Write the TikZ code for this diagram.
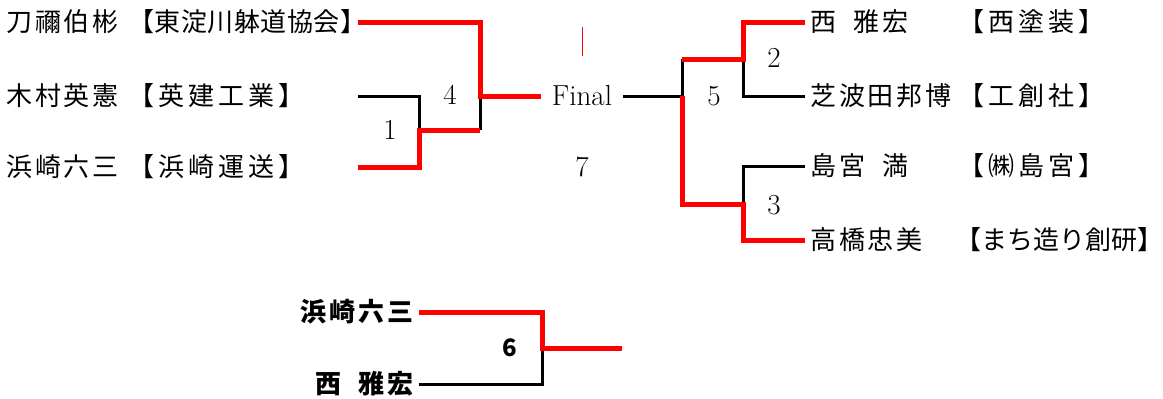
\documentclass[tikz,border=0pt]{standalone}
\usepackage{fontspec}
\newfontfamily\jpfont{Noto Sans CJK JP}
\usetikzlibrary{positioning}

\newcommand{\jpsize}{\fontsize{26}{30}\selectfont}
\newcommand{\namegap}{\hspace*{17pt}}

\tikzset{
		player/.style  = {anchor=west, inner sep=0pt,
				font=\jpfont\jpsize\addfontfeature{LetterSpace=11}},
		team/.style    = {anchor=west, inner sep=0pt,
				font=\jpfont\jpsize\addfontfeature{LetterSpace=#1}},
		finalist/.style = {anchor=east, inner sep=0pt, inner xsep=5pt,
				font=\jpfont\bfseries\jpsize\addfontfeature{LetterSpace=12}},
		score/.style   = {inner sep=0pt, font=\fontsize{29}{34}\selectfont},
		boldscore/.style = {inner sep=0pt, font=\jpfont\bfseries\fontsize{24}{28}\selectfont},
		win/.style     = {draw=red, line width=5pt},
		lose/.style    = {draw=black, line width=3pt}
	}

\begin{document}
\begin{tikzpicture}[x=1pt, y=-1pt]
				\useasboundingbox[fill=white] (0,0) rectangle (1163,399);

				% left half
				\node[player] (tone)      at (6,22)   {刀禰伯彬};
				\node[team=2] (tone c)    at (128,22)  {【東淀川躰道協会】};
				\node[player] (kimura)    at (6,96)   {木村英憲};
				\node[team=16] (kimura c) at (128,96)  {【英建工業】};
				\node[player] (hamasaki)  at (6,167)  {浜崎六三};
				\node[team=16] (hamasaki c) at (128,167) {【浜崎運送】};

				% right half
				\node[player] (nishi)     at (810,22)  {西\namegap 雅宏};
				\node[team=16] (nishi c)  at (958,22)  {【西塗装】};
				\node[player] (shibata)   at (810,96)  {芝波田邦博};
				\node[team=16] (shibata c) at (958,96) {【工創社】};
				\node[player] (shima)     at (810,166) {島宮\namegap 満};
				\node[team=16] (shima c)  at (958,166) {【㈱島宮】};
				\node[player] (takahashi) at (810,240) {高橋忠美};
				\node[team=0] (takahashi c) at (955,240) {【まち造り創研】\kern-12pt};

				% match numbers
				\node[score, inner xsep=11pt] (final) at (582,96) {Final};
				\node[score] (m1) at (390,130) {1};
				\node[score] (m2) at (774,58)  {2};
				\node[score] (m3) at (774,205) {3};
				\node[score] (m4) at (450,95)  {4};
				\node[score] (m5) at (714,96)  {5};
				\node[score] (m7) at (582,167) {7};

				% bracket ends and joints
				\coordinate (l1) at (358,22);
				\coordinate (l2) at (358,96);
				\coordinate (l3) at (358,167);
				\coordinate (j1) at (419,130);
				\coordinate (j4) at (480,96);
				\coordinate (r1) at (805,22);
				\coordinate (r2) at (805,96);
				\coordinate (r3) at (805,166);
				\coordinate (r4) at (805,240);
				\coordinate (j2) at (743,59);
				\coordinate (j3) at (743,204);
				\coordinate (j5) at (682,96);
				\coordinate (tick top) at (582,27);
				\coordinate (tick bottom) at (582,56);

				\draw[lose] (l2) -| (j1);
				\draw[lose] (j1 -| j4) -- (j4);
				\draw[win] (l3) -| (j1) -- (j1 -| j4);
				\draw[win] (l1) -| (j4) -- (final.west);

				\draw[lose] (final.east) -- (j5) -- (j5 |- j2);
				\draw[lose] (j2) |- (r2);
				\draw[lose] (j3) |- (r3);
				\draw[win] (j5 |- j2) -- (j2) |- (r1);
				\draw[win] (j5) |- (j3) |- (r4);

				\draw[red, line width=1pt] (tick top) -- (tick bottom);

				% third place
				\node[finalist] (third a) at (419,312) {浜崎六三};
				\node[finalist] (third b) at (419,384) {西\namegap 雅宏};
				\node[boldscore] (m6) at (510,348) {6};
				\coordinate (j6) at (542,348);
				\coordinate (third win) at (622,348);

				\draw[lose] (third b.east) -| (j6);
				\draw[win] (third a.east) -| (j6) -- (third win);
			\end{tikzpicture}
\end{document}
